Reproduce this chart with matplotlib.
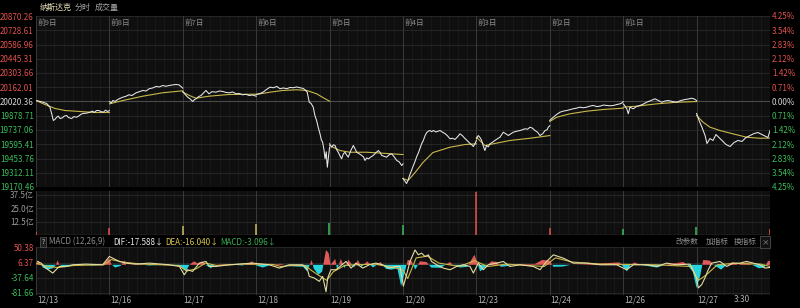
import matplotlib
matplotlib.use("Agg")
import matplotlib.pyplot as plt
import numpy as np

plt.rcParams['font.family'] = ['Noto Sans CJK SC', 'DejaVu Sans']

# ---- data ----
days = ['12/13', '12/16', '12/17', '12/18', '12/19', '12/20', '12/23', '12/24', '12/26', '12/27']
day_tags = ['前9日', '前8日', '前7日', '前6日', '前5日', '前4日', '前3日', '前2日', '前1日', '']

price_min = [
    [0, 20, 40, 57, 74, 83, 92, 100, 110, 118, 128, 140, 150, 163, 172, 190, 200, 216, 230, 240, 251, 270, 287, 300, 310, 322, 335, 345, 358, 370, 380, 390],
    [0, 10, 18, 30, 44, 55, 71, 85, 104, 120, 142, 160, 177, 195, 211, 230, 248, 265, 283, 300, 317, 335, 354, 370, 390],
    [0, 15, 26, 40, 53, 62, 70, 85, 97, 110, 123, 139, 155, 176, 195, 212, 230, 247, 265, 283, 300, 318, 335, 353, 370, 390],
    [0, 20, 36, 55, 73, 91, 110, 126, 145, 162, 180, 197, 215, 233, 250, 259, 271, 282, 292, 303, 312, 321, 330, 339, 346, 353, 360, 366, 372, 378, 384, 390],
    [0, 11, 20, 29, 38, 46, 55, 64, 73, 82, 90, 99, 112, 126, 135, 144, 158, 171, 180, 188, 197, 206, 220, 232, 245, 259, 268, 277, 290, 303, 316, 330, 343, 357, 370, 383, 390],
    [0, 10, 19, 27, 35, 44, 53, 63, 73, 82, 90, 99, 108, 117, 126, 135, 143, 152, 161, 175, 186, 197, 210, 223, 236, 250, 263, 276, 290, 303, 316, 329, 342, 356, 365, 374, 382, 390],
    [0, 10, 20, 28, 36, 45, 54, 63, 72, 85, 98, 112, 125, 134, 143, 156, 170, 183, 196, 214, 232, 245, 258, 272, 285, 298, 311, 325, 338, 352, 365, 376, 382, 390],
    [0, 10, 19, 35, 54, 72, 90, 108, 125, 143, 161, 178, 196, 214, 231, 249, 267, 285, 302, 320, 338, 355, 373, 382, 390],
    [0, 10, 19, 27, 36, 45, 54, 70, 89, 107, 125, 147, 169, 187, 205, 222, 240, 262, 284, 306, 328, 346, 364, 378, 390],
    [0, 13, 29, 45, 55, 71, 87, 103, 119, 135, 156, 178, 199, 220, 241, 262, 284, 305, 326, 347, 369, 379, 390],
]
price_val = [
    [20030, 20022, 20012, 20000, 19964, 19901, 19832, 19841, 19864, 19875, 19851, 19858, 19875, 19881, 19861, 19851, 19870, 19864, 19880, 19895, 19901, 19905, 19914, 19925, 19912, 19931, 19930, 19920, 19914, 19935, 19920, 19931],
    [20020, 20005, 20030, 20022, 20040, 20050, 20063, 20070, 20087, 20080, 20107, 20118, 20130, 20125, 20147, 20155, 20170, 20165, 20179, 20172, 20179, 20185, 20189, 20186, 20153],
    [20120, 20085, 20063, 20045, 20020, 20040, 20047, 20070, 20080, 20105, 20130, 20097, 20118, 20113, 20125, 20120, 20110, 20107, 20115, 20097, 20100, 20087, 20092, 20080, 20085, 20073],
    [20090, 20100, 20113, 20140, 20163, 20157, 20170, 20147, 20155, 20147, 20160, 20157, 20165, 20157, 20150, 20137, 20113, 20013, 20000, 19964, 19880, 19831, 19760, 19699, 19640, 19616, 19540, 19451, 19520, 19367, 19470, 19566],
    [19600, 19566, 19590, 19583, 19540, 19516, 19480, 19451, 19500, 19516, 19490, 19467, 19530, 19583, 19550, 19516, 19500, 19484, 19470, 19434, 19460, 19451, 19470, 19484, 19510, 19533, 19515, 19484, 19475, 19467, 19490, 19500, 19470, 19434, 19420, 19384, 19400],
    [19255, 19230, 19205, 19240, 19285, 19330, 19374, 19420, 19474, 19510, 19553, 19600, 19633, 19680, 19712, 19725, 19732, 19720, 19732, 19717, 19725, 19732, 19715, 19702, 19680, 19649, 19655, 19643, 19670, 19699, 19680, 19653, 19630, 19603, 19590, 19573, 19600, 19633],
    [19650, 19682, 19660, 19633, 19580, 19533, 19583, 19570, 19600, 19615, 19633, 19650, 19665, 19690, 19715, 19700, 19682, 19700, 19715, 19725, 19732, 19740, 19749, 19745, 19765, 19755, 19732, 19715, 19682, 19700, 19732, 19740, 19765, 19780],
    [19832, 19850, 19864, 19890, 19914, 19925, 19931, 19940, 19948, 19955, 19964, 19958, 19964, 19975, 19981, 19970, 19974, 19985, 19981, 19978, 19981, 19990, 19997, 20005, 20020],
    [19997, 19975, 19948, 19898, 19964, 19955, 19948, 19970, 19981, 19995, 20013, 20030, 20047, 20030, 20013, 20025, 20030, 20020, 20013, 20030, 20040, 20045, 20053, 20045, 20030],
    [19901, 19832, 19762, 19682, 19603, 19652, 19633, 19692, 19662, 19633, 19593, 19573, 19613, 19633, 19623, 19662, 19682, 19702, 19712, 19692, 19672, 19662, 19732],
]
avg_min = [
    [0, 48, 101, 154, 234, 313, 390],
    [0, 71, 177, 283, 390],
    [0, 35, 70, 139, 245, 390],
    [0, 73, 142, 215, 268, 321, 357, 390],
    [0, 55, 108, 197, 285, 390],
    [0, 27, 64, 106, 159, 250, 330, 390],
    [0, 45, 90, 179, 285, 390],
    [0, 37, 107, 196, 284, 390],
    [0, 72, 178, 284, 390],
    [0, 34, 71, 124, 193, 266, 337, 390],
]
avg_val = [
    [20030, 19990, 19951, 19931, 19921, 19911, 19911],
    [19997, 20030, 20073, 20107, 20127],
    [20113, 20080, 20053, 20073, 20090, 20093],
    [20090, 20113, 20130, 20137, 20130, 20097, 20057, 20023],
    [19583, 19533, 19516, 19516, 19506, 19493],
    [19255, 19235, 19314, 19414, 19513, 19566, 19593, 19599],
    [19665, 19583, 19600, 19633, 19655, 19682],
    [19822, 19864, 19898, 19924, 19941, 19954],
    [19964, 19974, 19997, 20013, 20020],
    [19881, 19815, 19765, 19732, 19699, 19665, 19655, 19657],
]

price_ticks = [20870.26, 20728.61, 20586.96, 20445.31, 20303.66, 20162.01, 20020.36,
               19878.71, 19737.06, 19595.41, 19453.76, 19312.11, 19170.46]
pct_labels = ['4.25%', '3.54%', '2.83%', '2.12%', '1.42%', '0.71%', '0.00%',
              '0.71%', '1.42%', '2.12%', '2.83%', '3.54%', '4.25%']
prev_close = 20020.36

# volume (亿), global minutes
vol_t = [0, 389, 779, 1169, 1559, 1949, 2339, 2729, 3119, 3509, 3899]
vol_v = [3.0, 6.5, 8.5, 10.0, 11.0, 9.5, 40.5, 6.5, 6.0, 7.0, 6.0]
vol_dir = ['up', 'up', 'flat', 'flat', 'down', 'down', 'up', 'up', 'down', 'down', 'up']
vol_ticks = [12.5, 25.0, 37.5]
vol_labels = ['12.5亿', '25.0亿', '37.5亿']

# MACD, global minutes
dif_t = [9, 27, 53, 89, 106, 124, 159, 195, 266, 354, 390, 407, 443, 478, 531, 602, 708, 762, 788, 806, 832, 868, 903, 921, 956, 1027, 1151, 1240, 1293, 1346, 1417, 1443, 1452, 1479, 1505, 1523, 1541, 1550, 1567, 1594, 1647, 1674, 1700, 1736, 1771, 1806, 1842, 1877, 1913, 1934,
         1952, 1969, 1987, 2014, 2031, 2049, 2067, 2085, 2102, 2129, 2164, 2200, 2235, 2270, 2306, 2324, 2350, 2377, 2403, 2448, 2483, 2518, 2572, 2642, 2678, 2713, 2749, 2802, 2855, 2926, 2997, 3085, 3138, 3174, 3245, 3298, 3351, 3404, 3475, 3510, 3519, 3537, 3554, 3572, 3590, 3634, 3670, 3705, 3740, 3776, 3811, 3846, 3873, 3900]
dif_v = [9.6, 4.8, -9.6, -24, -14.4, -4.8, -4.8, 0, 1.9, 0, 24, 19.2, 9.6, 4.8, 1.9, 4.8, 0, -4.8, -28.8, -14.4, -19.2, 4.8, 9.6, -4.8, -4.8, 0, 4.8, 0, -9.6, 0, 0, -14.4, -33.6, -38.4, -48, -33.6, -78, -38.4, -14.4, -14.4, 9.6, -9.6, 4.8, -9.6, 0, 4.8, 0, -9.6, -4.8, -4.8,
         -62, -29, 9.6, 43, 29, 33.6, 24, 28.8, 9.6, 0, -9.6, -14.4, -4.8, 0, -4.8, -24, 4.8, -14.4, 0, 4.8, 9.6, -4.8, 0, -4.8, -14.4, 9.6, 28.8, 19.2, 4.8, 4.8, 0, 0, -14.4, 0, 0, -4.8, 4.8, 0, 1.9, -38.4, -67, -57.5, -38.4, -14.4, 4.8, 9.6, -4.8, 4.8, 4.8, 9.6, 4.8, 0, -9.6, -7.7]
dea_t = [0, 60, 120, 200, 360, 400, 460, 560, 760, 800, 850, 900, 960, 1100, 1260, 1300, 1360, 1430, 1460, 1500, 1545, 1580, 1640, 1700, 1800, 1900, 1950, 1975, 2020, 2080, 2140, 2250, 2330, 2400, 2500, 2700, 2760, 2850, 3000, 3300, 3480, 3520, 3560, 3620, 3700, 3850, 3900]
dea_v = [5, -5, -8, -2, 0, 15, 8, 2, -2, -18, -12, 5, -2, 2, 1, -5, -2, -2, -15, -30, -45, -20, -2, 0, 2, -8, -15, -40, 20, 25, 5, -5, 12, -5, 2, -5, 20, 8, 2, 0, -5, -45, -30, 0, 4, 2, -5]
hist_t = [0, 9, 27, 36, 62, 89, 106, 115, 124, 150, 195, 240, 300, 354, 390, 400, 420, 450, 470, 480, 550, 600, 700, 760, 780, 797, 815, 840, 860, 885, 900, 930, 950, 1000, 1100, 1150, 1160, 1205, 1250, 1300, 1350, 1420, 1440, 1465, 1475, 1500, 1520, 1541, 1555, 1565, 1590, 1600, 1620, 1640, 1660, 1690, 1710, 1730, 1760, 1790, 1830, 1860, 1890, 1920, 1940,
          1960, 1975, 1995, 2015, 2040, 2075, 2100, 2150, 2175, 2200, 2215, 2255, 2290, 2330, 2345, 2360, 2385, 2420, 2450, 2470, 2500, 2560, 2650, 2690, 2730, 2750, 2800, 2840, 2900, 3100, 3140, 3160, 3180, 3210, 3300, 3340, 3440, 3460, 3490, 3510, 3530, 3545, 3580, 3600, 3640, 3670, 3700, 3730, 3780, 3840, 3870, 3890, 3900]
hist_v = [0, 11, 2, -8, -14, -10, 0, 13, 0, -7, -2, 2, -2, 0, 19, 2, -8, -3, 13, 0, 2, -2, 1, -3, -12, -19, 0, 10, 4, 10, 0, -10, 0, 2, -2, 10, 0, -8, 0, 3, -4, -6, -19, 14, -10, -29, -20, 43, 34, 0, 17, -14, 17, -10, 15, -8, 14, -6, 10, -8, 8, -12, -14, -10, -62,
          -20, 14, 12, -14, 10, 8, -8, -9, 0, 8, 0, -8, -6, 29, 5, -19, -8, 10, 8, -6, -4, 2, 2, 14, 12, -6, -5, 0, 1, 7, -19, 0, 7, 0, -8, 0, 8, 0, -20, -67, -30, 14, 12, 0, -14, 0, 8, 0, 7, -10, -8, 12, 12]
macd_ticks = [50.38, 6.37, -37.64, -81.66]

# ---- style ----
BG = '#000000'
PANEL = '#0f0f0f'
GRID = '#2a2a2a'
MINOR = '#1a1a1a'
RED = '#e0524c'
GREEN = '#3dbd5a'
WHITE = '#d6d6d6'
GRAY = '#9a9a9a'
YEL = '#c9b84a'
W, H = 800, 308
DAY = 390
T_END = DAY * len(days)

fig = plt.figure(figsize=(W / 100, H / 100), dpi=100, facecolor=BG)


def px_axes(x0, y0, x1, y1):
    ax = fig.add_axes([x0 / W, 1 - y1 / H, (x1 - x0) / W, (y1 - y0) / H])
    ax.set_facecolor(PANEL)
    for s in ax.spines.values():
        s.set_visible(False)
    ax.set_xlim(0, T_END)
    ax.set_xticks([])
    ax.tick_params(axis='y', length=0, pad=1.5, labelsize=5.8)
    # day dividers and finer vertical grid
    for i in range(len(days) + 1):
        ax.axvline(i * DAY, color='#3a3a3a', lw=0.7, zorder=1)
    for i in range(len(days)):
        for k in range(1, 8):
            ax.axvline(i * DAY + k * DAY / 8, color=MINOR, lw=0.6, zorder=0)
    return ax


def ftext(x, y, s, **kw):
    return fig.text(x / W, 1 - y / H, s, **kw)


# ---- main price panel ----
ax = px_axes(36, 16, 770, 187)
ax.set_ylim(price_ticks[-1], price_ticks[0])
ax.set_yticks(price_ticks)
ax.set_yticklabels(['%.2f' % v for v in price_ticks])
for tick in price_ticks:
    ax.axhline(tick, color=GRID, lw=0.6, zorder=0)
ax.axhline(prev_close, color='#4a4a4a', lw=0.8, zorder=1)
for lab, v in zip(ax.get_yticklabels(), price_ticks):
    lab.set_color(RED if v > prev_close + 1 else (GREEN if v < prev_close - 1 else WHITE))

for i in range(len(days)):
    t0 = i * DAY
    ax.plot(np.array(avg_min[i]) + t0, avg_val[i], color=YEL, lw=0.8, zorder=3)
    ax.plot(np.array(price_min[i]) + t0, price_val[i], color='#e8e8e8', lw=0.75, zorder=4)
    if day_tags[i]:
        ax.text(t0 + 8, price_ticks[0] - 70, day_tags[i], color='#8c8c8c',
                fontsize=5.5, va='center', ha='left')

axr = ax.twinx()
axr.set_ylim(ax.get_ylim())
axr.set_yticks(price_ticks)
axr.set_yticklabels(pct_labels)
axr.tick_params(axis='y', length=0, pad=1.5, labelsize=5.8)
for s in axr.spines.values():
    s.set_visible(False)
for lab, v in zip(axr.get_yticklabels(), price_ticks):
    lab.set_color(RED if v > prev_close + 1 else (GREEN if v < prev_close - 1 else WHITE))

# ---- volume panel ----
av = px_axes(36, 191, 770, 235)
av.set_ylim(0, 41)
av.set_yticks(vol_ticks)
av.set_yticklabels(vol_labels, color=GRAY)
for tick in vol_ticks:
    av.axhline(tick, color=GRID, lw=0.6, zorder=0)
av.axhline(0.4, color='#5a3a2a', lw=1.0, zorder=2)
dir_color = {'up': RED, 'down': GREEN, 'flat': '#c8c060'}
av.vlines(vol_t, 0, vol_v, colors=[dir_color[d] for d in vol_dir], lw=1.1, zorder=3)

# ---- MACD panel ----
am = px_axes(36, 247, 770, 295)
am.set_ylim(-87.5, 51.5)
am.set_yticks(macd_ticks)
am.set_yticklabels(['%.2f' % v for v in macd_ticks])
for lab, v in zip(am.get_yticklabels(), macd_ticks):
    lab.set_color(RED if v > 0 else GREEN)
for tick in macd_ticks:
    am.axhline(tick, color=GRID, lw=0.6, zorder=0)
hv = np.array(hist_v, dtype=float)
am.fill_between(hist_t, 0, hv, where=hv >= 0, color='#e05a5a', lw=0, interpolate=True, zorder=2)
am.fill_between(hist_t, 0, hv, where=hv <= 0, color='#27d3dc', lw=0, interpolate=True, zorder=2)
am.plot(dea_t, dea_v, color=YEL, lw=0.8, zorder=3)
am.plot(dif_t, dif_v, color='#e4dca0', lw=0.8, zorder=4)

# date labels
for i, d in enumerate(days):
    am.text(i * DAY + 5, -101, d, color='#b0b0b0', fontsize=5.8, ha='left', va='center', clip_on=False)
am.text(9 * DAY + 240, -101, '3:30', color='#b0b0b0', fontsize=5.8, ha='center', va='center', clip_on=False)

# ---- header texts ----
ftext(40, 7.5, '纳斯达克', color='#e6dfb8', fontsize=5.8, va='center')
ftext(75, 7.5, '分时', color='#a8a8a8', fontsize=5.8, va='center')
ftext(95, 7.5, '成交量', color='#a8a8a8', fontsize=5.8, va='center')

ftext(43, 242, '?', color='#c0c0c0', fontsize=5, va='center', ha='center',
      bbox=dict(boxstyle='square,pad=0.15', fc='#1e1e1e', ec='#5a5a5a', lw=0.5))
ftext(49, 242, 'MACD (12,26,9)', color='#8c8c8c', fontsize=5.8, va='center')
ftext(113, 242, 'DIF:-17.588↓', color='#e8e8e8', fontsize=5.8, va='center')
ftext(165, 242, 'DEA:-16.040↓', color='#d8c84a', fontsize=5.8, va='center')
ftext(220, 242, 'MACD:-3.096↓', color='#38b050', fontsize=5.8, va='center')
ftext(676, 242, '改参数', color='#8c8c8c', fontsize=5.5, va='center')
ftext(706, 242, '加指标', color='#8c8c8c', fontsize=5.5, va='center')
ftext(734, 242, '换指标', color='#8c8c8c', fontsize=5.5, va='center')
ftext(765, 242, '×', color='#9a9a9a', fontsize=5.5, va='center', ha='center',
      bbox=dict(boxstyle='square,pad=0.2', fc='#111111', ec='#5a5a5a', lw=0.5))

fig.savefig('out.png', dpi=100, facecolor=BG)
